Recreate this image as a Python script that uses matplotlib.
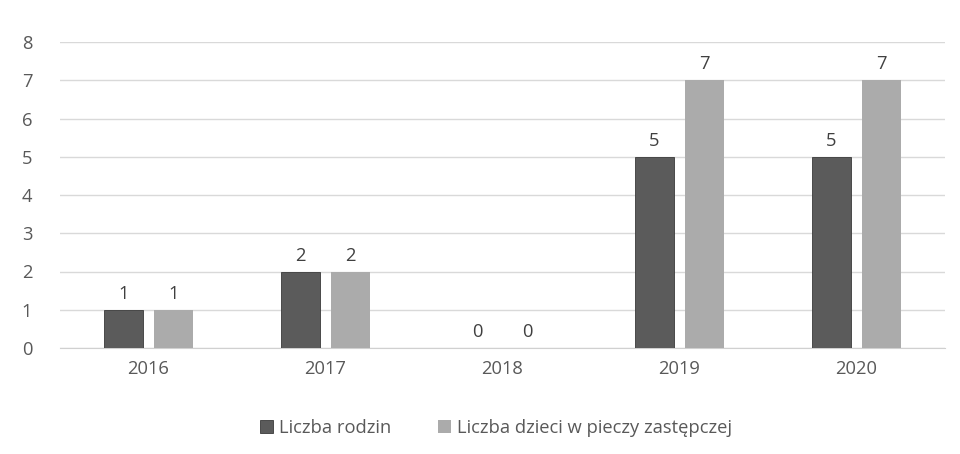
import matplotlib
matplotlib.use("Agg")
import matplotlib.pyplot as plt
import numpy as np

years = ["2016", "2017", "2018", "2019", "2020"]
rodziny = [1, 2, 0, 5, 5]
dzieci = [1, 2, 0, 7, 7]
series_names = ["Liczba rodzin", "Liczba dzieci w pieczy zastępczej"]

plt.rcParams['font.family'] = ['Open Sans', 'DejaVu Sans']
txt = "#595959"
fs = 13.2

fig = plt.figure(figsize=(9.6, 4.54), dpi=100)
ax = fig.add_axes([60/960, 1-348/454, 885/960, 306/454])

x = np.arange(len(years))
w = 0.22
off = 0.143
c1, c2 = "#5b5b5b", "#ababab"
b1 = ax.bar(x - off, rodziny, w, color=c1, edgecolor="#3a3a3a", linewidth=0.6, label=series_names[0], zorder=3)
b2 = ax.bar(x + off, dzieci, w, color=c2, label=series_names[1], zorder=3)

for bars, vals in ((b1, rodziny), (b2, dzieci)):
    for r, v in zip(bars, vals):
        ax.text(r.get_x() + r.get_width()/2, v + 0.18, str(v), ha="center", va="bottom",
                fontsize=fs, color="#404040")

ax.set_xlim(-0.5, len(years) - 0.5)
ax.set_ylim(0, 8)
ax.set_yticks(range(0, 9))
ax.set_xticks(x)
ax.set_xticklabels(years)
ax.tick_params(axis="both", length=0, labelsize=fs, colors=txt)
ax.tick_params(axis="y", pad=20)
ax.tick_params(axis="x", pad=9)
ax.grid(axis="y", color="#d9d9d9", linewidth=1, zorder=0)
for s in ["top", "right", "left"]:
    ax.spines[s].set_visible(False)
ax.spines["bottom"].set_color("#d0d0d0")

leg = fig.legend(loc="center", bbox_to_anchor=(496/960, 1-428/454), ncol=2, frameon=False,
                 fontsize=fs, handlelength=0.7, handleheight=0.7, columnspacing=2.6,
                 handletextpad=0.3)
for t in leg.get_texts():
    t.set_color(txt)

fig.savefig("out.png", dpi=100, facecolor="white")
